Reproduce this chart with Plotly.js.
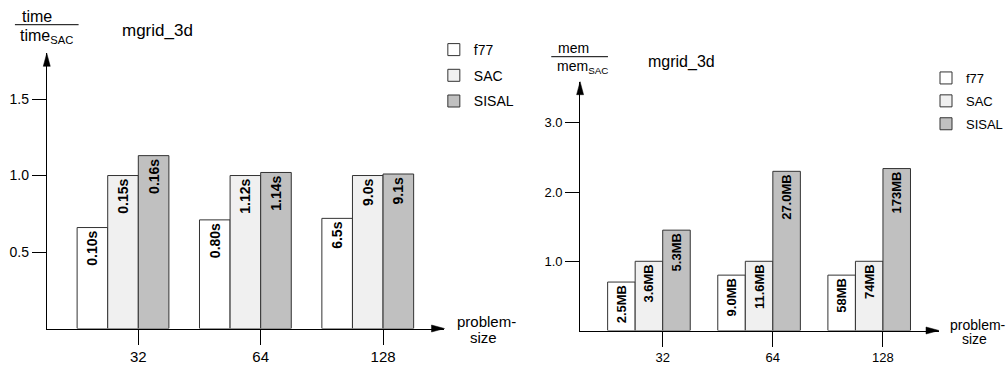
<!DOCTYPE html>
<html>
<head>
<meta charset="utf-8">
<script src="https://cdn.plot.ly/plotly-3.0.1.min.js"></script>
<style>
  html, body { margin: 0; padding: 0; background: #ffffff; }
  #chart { width: 1008px; height: 365px; }
</style>
</head>
<body>
<div id="chart"></div>
<script>
// ---------------- data ----------------
const categories = ['32', '64', '128'];
const seriesNames = ['f77', 'SAC', 'SISAL'];

// runtime relative to SAC
const timeF77 = [0.66, 0.71, 0.72];
const timeSAC = [1.00, 1.00, 1.00];
const timeSISAL = [1.13, 1.02, 1.01];
const timeLabelsF77 = ['0.10s', '0.80s', '6.5s'];
const timeLabelsSAC = ['0.15s', '1.12s', '9.0s'];
const timeLabelsSISAL = ['0.16s', '1.14s', '9.1s'];

// memory relative to SAC
const memF77 = [0.70, 0.80, 0.80];
const memSAC = [1.00, 1.00, 1.00];
const memSISAL = [1.45, 2.30, 2.34];
const memLabelsF77 = ['2.5MB', '9.0MB', '58MB'];
const memLabelsSAC = ['3.6MB', '11.6MB', '74MB'];
const memLabelsSISAL = ['5.3MB', '27.0MB', '173MB'];

const timeTickVals = [0.5, 1.0, 1.5];
const timeTickText = ['0.5', '1.0', '1.5'];
const memTickVals = [1, 2, 3];
const memTickText = ['1.0', '2.0', '3.0'];

// ---------------- styling ----------------
const W = 1008, H = 365;
const FONT = 'Liberation Sans, Arial, Helvetica, sans-serif';
const fills = ['#ffffff', '#f0f0f0', '#c0c0c0'];
const outline = '#333333';
const barWidth = 0.25;
const barOffsets = [-0.5, -0.25, 0];

const px = v => v / W;
const py = v => 1 - v / H;

const catIndex = categories.map((c, i) => i);

function makeTraces(valueSets, labelSets, xa, ya, legendId, textSize) {
  return valueSets.map((vals, s) => ({
    type: 'bar',
    name: seriesNames[s],
    x: catIndex,
    y: vals,
    xaxis: xa,
    yaxis: ya,
    width: barWidth,
    offset: barOffsets[s],
    marker: { color: fills[s], line: { color: outline, width: 1 } },
    text: labelSets[s],
    textposition: 'inside',
    insidetextanchor: 'end',
    textangle: -90,
    insidetextfont: { family: FONT, size: textSize, color: '#000000', weight: 'bold' },
    textfont: { family: FONT, size: textSize, color: '#000000', weight: 'bold' },
    constraintext: 'none',
    legend: legendId,
    legendgroup: legendId + seriesNames[s],
    hoverinfo: 'skip'
  }));
}

const traces = [
  ...makeTraces([timeF77, timeSAC, timeSISAL],
                [timeLabelsF77, timeLabelsSAC, timeLabelsSISAL], 'x', 'y', 'legend', 14),
  ...makeTraces([memF77, memSAC, memSISAL],
                [memLabelsF77, memLabelsSAC, memLabelsSISAL], 'x2', 'y2', 'legend2', 13)
];

function xAxis(domain, range, anchor, size, standoff) {
  return {
    domain: domain, range: range, anchor: anchor,
    showgrid: false, zeroline: false,
    showline: true, linecolor: '#000000', linewidth: 1,
    ticks: 'outside', ticklen: 15, tickcolor: '#000000', tickwidth: 1,
    tickmode: 'array', tickvals: catIndex, ticktext: categories,
    tickfont: { family: FONT, size: size, color: '#000000' },
    ticklabelstandoff: standoff,
    fixedrange: true
  };
}
function yAxis(domain, range, anchor, vals, text, size) {
  return {
    domain: domain, range: range, anchor: anchor,
    showgrid: false, zeroline: false,
    showline: true, linecolor: '#000000', linewidth: 1,
    ticks: 'outside', ticklen: 14, tickcolor: '#000000', tickwidth: 1,
    tickmode: 'array', tickvals: vals, ticktext: text,
    tickfont: { family: FONT, size: size, color: '#000000' },
    fixedrange: true
  };
}

// arrowheads at the ends of the axis lines (pixel-sized, anchored to axis domains)
function arrowShapes(xd, yd) {
  return [
    { type: 'path', xref: xd, yref: yd, xsizemode: 'pixel', ysizemode: 'pixel',
      xanchor: 1, yanchor: 0, path: 'M0,0 L-13,3.5 L-13,-3.5 Z',
      fillcolor: '#000000', line: { color: '#000000', width: 0.5 } },
    { type: 'path', xref: xd, yref: yd, xsizemode: 'pixel', ysizemode: 'pixel',
      xanchor: 0, yanchor: 1, path: 'M0,0 L-3.5,-13 L3.5,-13 Z',
      fillcolor: '#000000', line: { color: '#000000', width: 0.5 } }
  ];
}

function ann(text, x, y, size, xanchor) {
  return { text: text, x: px(x), y: py(y), xref: 'paper', yref: 'paper',
           xanchor: xanchor || 'center', yanchor: 'middle', showarrow: false,
           font: { family: FONT, size: size, color: '#000000' } };
}

const layout = {
  width: W, height: H,
  margin: { l: 0, r: 0, t: 0, b: 0, pad: 0 },
  paper_bgcolor: '#ffffff', plot_bgcolor: '#ffffff',
  font: { family: FONT, color: '#000000' },
  barmode: 'overlay',
  showlegend: true,
  xaxis: xAxis([47 / W, 446.7 / W], [-0.748, 2.502], 'y', 15, -1),
  yaxis: yAxis([py(328.5), py(53.3)], [0, 1.799], 'x', timeTickVals, timeTickText, 14),
  xaxis2: xAxis([583 / W, 943.7 / W], [-0.75, 2.509], 'y2', 13, 0),
  yaxis2: yAxis([py(330.5), py(81.7)], [0, 3.595], 'x2', memTickVals, memTickText, 13),
  legend: {
    x: px(436), y: py(34), xanchor: 'left', yanchor: 'top',
    bgcolor: 'rgba(0,0,0,0)', borderwidth: 0,
    font: { family: FONT, size: 14, color: '#000000' },
    traceorder: 'grouped', tracegroupgap: 4.5
  },
  legend2: {
    x: px(931), y: py(63), xanchor: 'left', yanchor: 'top',
    bgcolor: 'rgba(0,0,0,0)', borderwidth: 0,
    font: { family: FONT, size: 13, color: '#000000' },
    traceorder: 'grouped', tracegroupgap: 3
  },
  shapes: [
    ...arrowShapes('x domain', 'y domain'),
    ...arrowShapes('x2 domain', 'y2 domain'),
    { type: 'line', xref: 'paper', yref: 'paper', x0: px(15), x1: px(79), y0: py(24.7), y1: py(24.7),
      line: { color: '#000000', width: 1 } },
    { type: 'line', xref: 'paper', yref: 'paper', x0: px(554), x1: px(611), y0: py(56.7), y1: py(56.7),
      line: { color: '#000000', width: 1 } }
  ],
  annotations: [
    ann('time', 37, 16, 16),
    ann('time<sub>SAC</sub>', 46.7, 36, 16),
    ann('mgrid_3d', 121, 30, 17, 'left'),
    ann('problem-', 457.7, 321.5, 15, 'left'),
    ann('size', 470, 337, 15, 'left'),
    ann('mem', 576.5, 48, 14),
    ann('mem<sub>SAC</sub>', 585, 67, 14),
    ann('mgrid_3d', 649.7, 62, 16, 'left'),
    ann('problem-', 953, 324.5, 14, 'left'),
    ann('size', 964.7, 338.5, 14, 'left')
  ]
};

Plotly.newPlot('chart', traces, layout, { displayModeBar: false, staticPlot: true });
</script>
</body>
</html>
